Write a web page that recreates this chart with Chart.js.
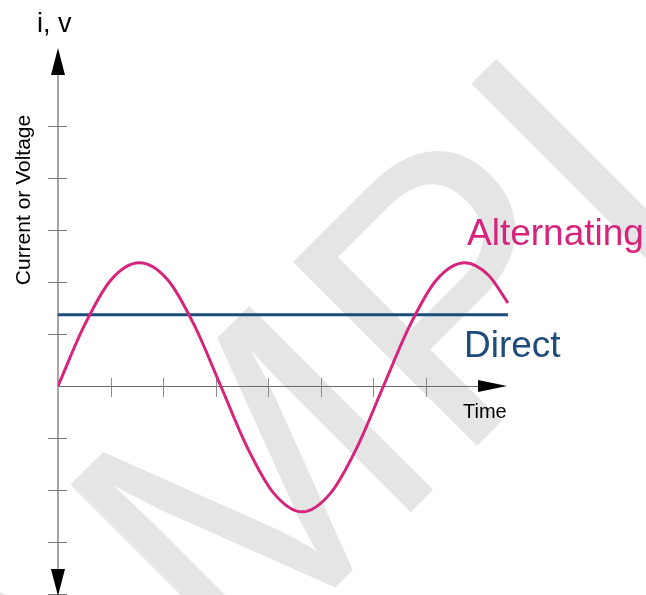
<!DOCTYPE html>
<html>
<head>
<meta charset="utf-8">
<script src="https://cdn.jsdelivr.net/npm/chart.js@4.4.1/dist/chart.umd.min.js"></script>
<style>
  html, body { margin: 0; padding: 0; background: #fff; }
  #wrap { width: 646px; height: 595px; position: relative; }
</style>
</head>
<body>
<div id="wrap"><canvas id="chart" width="646" height="595"></canvas></div>
<script>
// values (x in tick units, y in tick units)
const timeTicks = [1, 2, 3, 4, 5, 6, 7];
const valueTicks = [-4, -3, -2, -1, 1, 2, 3, 4, 5];
const acTime = [0, 0.5, 1, 1.55, 2.1, 2.6, 3.1, 3.6, 4.1, 4.65, 5.2, 5.7, 6.2, 6.7, 7.2, 7.75, 8.2, 8.57];
const acValue = [0, 1.16, 2.03, 2.37, 2.03, 1.16, 0, -1.17, -2.05, -2.42, -2.05, -1.17, 0, 1.16, 2.03, 2.37, 2.13, 1.6];
const dcTime = [0, 8.57];
const dcValue = [1.37, 1.37];

const acColor = '#d6247c';
const dcColor = '#1c4b7c';

const ctx = document.getElementById('chart').getContext('2d');

// light grey watermark behind everything
const watermark = {
    id: 'watermark',
    beforeDraw(chart) {
        const c = chart.ctx;
        const fs = 378;
        c.save();
        c.fillStyle = '#e5e5e5';
        c.font = fs + 'px "Liberation Sans", Arial, sans-serif';
        c.textAlign = 'left';
        c.textBaseline = 'alphabetic';
        // anchor: foot of the right stem of the M
        const off = c.measureText('SAM').width - 0.12 * fs;
        c.translate(423, 500);
        c.rotate(-Math.PI / 4);
        c.fillText('SAMPLE', -off, 0);
        c.restore();
    }
};

// axes with arrow heads and crossing tick marks
const axes = {
    id: 'axes',
    beforeDatasetsDraw(chart) {
        const c = chart.ctx;
        const xs = chart.scales.x, ys = chart.scales.y;
        const x0 = xs.getPixelForValue(0), y0 = ys.getPixelForValue(0);
        const xEnd = 507, yTop = 48, yBot = 596;
        c.save();
        // y axis
        c.strokeStyle = '#a5a5a5';
        c.lineWidth = 2;
        c.beginPath(); c.moveTo(x0, yTop + 10); c.lineTo(x0, yBot - 10); c.stroke();
        c.lineWidth = 1;
        c.strokeStyle = '#7a7a7a';
        valueTicks.forEach(v => {
            const y = Math.round(ys.getPixelForValue(v)) + 0.5;
            c.beginPath(); c.moveTo(x0 - 10, y); c.lineTo(x0 + 9, y); c.stroke();
        });
        // x axis
        c.strokeStyle = '#6a6a6a';
        c.beginPath(); c.moveTo(x0, Math.round(y0) + 0.5); c.lineTo(xEnd - 10, Math.round(y0) + 0.5); c.stroke();
        c.strokeStyle = '#8a8a8a';
        timeTicks.forEach(t => {
            const x = Math.round(xs.getPixelForValue(t)) + 0.5;
            c.beginPath(); c.moveTo(x, y0 - 8); c.lineTo(x, y0 + 11); c.stroke();
        });
        // arrows
        c.fillStyle = '#000';
        c.beginPath(); c.moveTo(x0, yTop); c.lineTo(x0 - 7, yTop + 27); c.lineTo(x0 + 7, yTop + 27); c.closePath(); c.fill();
        c.beginPath(); c.moveTo(x0, yBot); c.lineTo(x0 - 7, yBot - 27); c.lineTo(x0 + 7, yBot - 27); c.closePath(); c.fill();
        c.beginPath(); c.moveTo(xEnd, y0); c.lineTo(xEnd - 29, y0 - 6); c.lineTo(xEnd - 29, y0 + 6); c.closePath(); c.fill();
        c.restore();
    },
    afterDraw(chart) {
        const c = chart.ctx;
        c.save();
        c.fillStyle = '#000';
        c.font = '27px "Liberation Sans", Arial, sans-serif';
        c.textAlign = 'left';
        c.textBaseline = 'alphabetic';
        c.fillText('i, v', 37, 32);
        c.font = '20px "Liberation Sans", Arial, sans-serif';
        c.fillText('Time', 463, 418);
        c.fillStyle = acColor;
        c.font = '37px "Liberation Sans", Arial, sans-serif';
        c.fillText('Alternating', 467, 245);
        c.fillStyle = dcColor;
        c.fillText('Direct', 464, 357);
        c.fillStyle = '#000';
        c.font = '21px "Liberation Sans", Arial, sans-serif';
        c.translate(30, 200);
        c.rotate(-Math.PI / 2);
        c.textAlign = 'center';
        c.fillText('Current or Voltage', 0, 0);
        c.restore();
    }
};

new Chart(ctx, {
    type: 'line',
    data: {
        datasets: [{
            label: 'Alternating',
            data: acTime.map((t, i) => ({ x: t, y: acValue[i] })),
            borderColor: acColor,
            borderWidth: 3,
            pointRadius: 0,
            cubicInterpolationMode: 'monotone',
            fill: false
        }, {
            label: 'Direct',
            data: dcTime.map((t, i) => ({ x: t, y: dcValue[i] })),
            borderColor: dcColor,
            borderWidth: 3,
            pointRadius: 0,
            fill: false
        }]
    },
    options: {
        responsive: false,
        animation: false,
        layout: { padding: { left: 58, right: 115.5, top: 22, bottom: 1 } },
        plugins: { legend: { display: false }, tooltip: { enabled: false } },
        scales: {
            x: { type: 'linear', min: 0, max: 9, display: false },
            y: { type: 'linear', min: -4, max: 7, display: false }
        }
    },
    plugins: [watermark, axes]
});
</script>
</body>
</html>
